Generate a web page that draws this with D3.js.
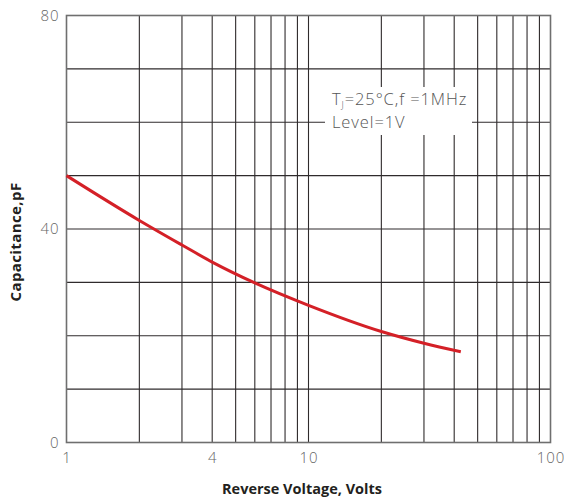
<!DOCTYPE html>
<html><head><meta charset="utf-8">
<script src="https://cdn.jsdelivr.net/npm/d3@7"></script>
<style>body{margin:0;background:#fff}svg{display:block}</style>
</head><body>
<script>
// Data
const voltage = [1, 2, 3, 4, 6, 10, 20, 30, 42.6];
const capacitance = [50, 41.6, 37.0, 33.8, 29.9, 25.7, 20.8, 18.6, 17.0];
const xGridValues = [2,3,4,5,6,7,8,9,10,20,30,40,50,60,70,80,90];
const yGridValues = [10,20,30,40,50,60,70];
const xTickLabels = [1, 4, 10, 100];
const yTickLabels = [0, 40, 80];

const W = 564, H = 498;
const svg = d3.select("body").append("svg").attr("width", W).attr("height", H);

const x = d3.scaleLog().domain([1, 100]).range([66.5, 550.5]);
const y = d3.scaleLinear().domain([0, 80]).range([442.5, 15.5]);

const g = svg.append("g");
// grid
g.selectAll("line.vx").data(xGridValues).join("line")
  .attr("x1", d => x(d)).attr("x2", d => x(d))
  .attr("y1", y(0)).attr("y2", y(80))
  .attr("stroke", "#2f2b2c").attr("stroke-width", 1.1);
g.selectAll("line.hy").data(yGridValues).join("line")
  .attr("x1", x(1)).attr("x2", x(100))
  .attr("y1", d => y(d)).attr("y2", d => y(d))
  .attr("stroke", "#2f2b2c").attr("stroke-width", 1.1);

// white annotation box
g.append("rect").attr("x", 325).attr("y", 87).attr("width", 147).attr("height", 48).attr("fill", "#fff");

// border
g.append("rect").attr("x", x(1)).attr("y", y(80))
  .attr("width", x(100) - x(1)).attr("height", y(0) - y(80))
  .attr("fill", "none").attr("stroke", "#6f6f6f").attr("stroke-width", 1.6);

// curve
const pts = voltage.map((v, i) => [v, capacitance[i]]);
const line = d3.line().x(d => x(d[0])).y(d => y(d[1])).curve(d3.curveMonotoneX);
g.append("path").datum(pts).attr("d", line)
  .attr("fill", "none").attr("stroke", "#d42027").attr("stroke-width", 3);

// axes labels
const axX = d3.axisBottom(x).tickValues(xTickLabels).tickFormat(d3.format("d")).tickSize(0).tickPadding(10);
const gx = svg.append("g").attr("transform", `translate(0,${y(0)})`).call(axX);
gx.select(".domain").remove();
gx.selectAll("text").attr("font-family", "Open Sans, sans-serif").attr("font-size", 15)
  .attr("font-weight", 300).attr("fill", "#666").attr("letter-spacing", 1);

const axY = d3.axisLeft(y).tickValues(yTickLabels).tickSize(0).tickPadding(7);
const gy = svg.append("g").attr("transform", `translate(${x(1)},0)`).call(axY);
gy.select(".domain").remove();
gy.selectAll("text").attr("font-family", "Open Sans, sans-serif").attr("font-size", 15)
  .attr("font-weight", 300).attr("fill", "#666").attr("letter-spacing", 1);

// titles
svg.append("text").attr("x", 302).attr("y", 494).attr("text-anchor", "middle")
  .attr("font-family", "Open Sans, sans-serif").attr("font-weight", 700).attr("font-size", 14.5)
  .attr("fill", "#231f20").text("Reverse Voltage, Volts");
svg.append("text").attr("transform", "translate(21,242) rotate(-90)").attr("text-anchor", "middle")
  .attr("font-family", "Open Sans, sans-serif").attr("font-weight", 700).attr("font-size", 15)
  .attr("fill", "#231f20").attr("letter-spacing", 0.4).text("Capacitance,pF");

// annotation
const ann = svg.append("g").attr("font-family", "Open Sans, sans-serif").attr("font-size", 16.5)
  .attr("font-weight", 300).attr("fill", "#555").attr("letter-spacing", 0.9);
const t1 = ann.append("text").attr("x", 332).attr("y", 105);
t1.append("tspan").text("T");
t1.append("tspan").attr("font-size", 9).attr("dy", 3).text("J");
t1.append("tspan").attr("dy", -3).text("=25°C,f =1MHz");
ann.append("text").attr("x", 332).attr("y", 127.5).text("Level=1V");
</script>
</body></html>
